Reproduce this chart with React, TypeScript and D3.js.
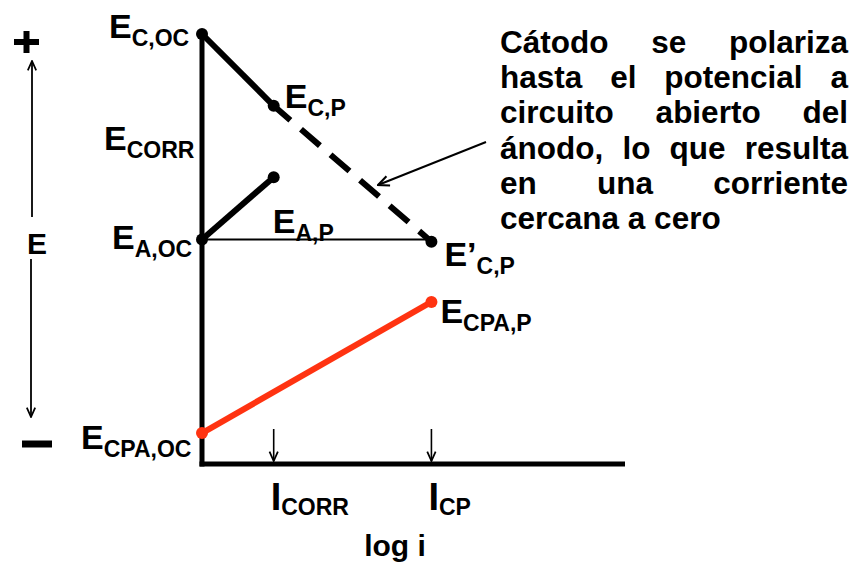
import React, { useEffect, useRef } from "react";
import * as d3 from "d3";

// ---- data (log i, E) in arbitrary units ----
const cathodeSolid = [
  { logI: 0, E: 10 },
  { logI: 1.0, E: 8.33 },
];
const cathodeDashed = [
  { logI: 1.0, E: 8.33 },
  { logI: 3.2, E: 5.17 },
];
const anodeLine = [
  { logI: 0, E: 5.22 },
  { logI: 1.0, E: 6.67 },
];
const corrLine = [
  { logI: 0, E: 5.22 },
  { logI: 3.2, E: 5.22 },
];
const cpaLine = [
  { logI: 0, E: 0.72 },
  { logI: 3.2, E: 3.77 },
];
const blackDots = [
  { logI: 0, E: 10 },
  { logI: 1.0, E: 8.33 },
  { logI: 1.0, E: 6.67 },
  { logI: 0, E: 5.22 },
  { logI: 3.2, E: 5.17 },
];
const redDots = [
  { logI: 0, E: 0.72 },
  { logI: 3.2, E: 3.77 },
];
const xTickLogI = [1.0, 3.2];
const xTickMain = ["I", "I"];
const xTickSub = ["CORR", "CP"];

// point labels: main letter + subscript, anchored near point values
const labelMain = ["E", "E", "E", "E", "E", "E’", "E", "E"];
const labelSub = ["C,OC", "C,P", "CORR", "A,OC", "A,P", "C,P", "CPA,P", "CPA,OC"];
const labelLogI = [0, 1.0, 0, 0, 1.0, 3.2, 3.2, 0];
const labelE = [10, 8.33, 7.0, 5.22, 5.22, 5.17, 3.77, 0.72];

const calloutLines = [
  ["Cátodo", "se", "polariza"],
  ["hasta", "el", "potencial", "a"],
  ["circuito", "abierto", "del"],
  ["ánodo,", "lo", "que", "resulta"],
  ["en", "una", "corriente"],
  ["cercana a cero"],
];

const W = 856;
const H = 567;
const FONT = "'Liberation Sans', Arial, sans-serif";

export default function App() {
  const ref = useRef<SVGSVGElement | null>(null);

  useEffect(() => {
    const svg = d3.select(ref.current);
    svg.selectAll("*").remove();

    const x = d3.scaleLinear().domain([0, 5.9]).range([202, 625]);
    const y = d3.scaleLinear().domain([0, 10]).range([464, 34]);
    const line = d3
      .line<{ logI: number; E: number }>()
      .x((d) => x(d.logI))
      .y((d) => y(d.E));

    const defs = svg.append("defs");
    const mk = (id: string, size: number) =>
      defs
        .append("marker")
        .attr("id", id)
        .attr("viewBox", "0 0 10 10")
        .attr("refX", 9.5)
        .attr("refY", 5)
        .attr("markerUnits", "userSpaceOnUse")
        .attr("markerWidth", size)
        .attr("markerHeight", size)
        .attr("orient", "auto")
        .append("path")
        .attr("d", "M1,1.2 L9.5,5 L1,8.8")
        .attr("fill", "none")
        .attr("stroke", "#000")
        .attr("stroke-width", 1.6)
        .attr("stroke-linejoin", "miter");
    mk("arrowS", 11);
    mk("arrowM", 13);

    // axes
    svg
      .append("line")
      .attr("x1", x(0))
      .attr("x2", x(0))
      .attr("y1", y(10))
      .attr("y2", y(0) + 2.5)
      .attr("stroke", "#000")
      .attr("stroke-width", 5);
    svg
      .append("line")
      .attr("x1", x(0) - 2.5)
      .attr("x2", x(5.9))
      .attr("y1", y(0))
      .attr("y2", y(0))
      .attr("stroke", "#000")
      .attr("stroke-width", 5);

    // thin horizontal line
    svg
      .append("path")
      .attr("d", line(corrLine))
      .attr("stroke", "#000")
      .attr("stroke-width", 2)
      .attr("fill", "none");

    // cathode solid & dashed
    svg
      .append("path")
      .attr("d", line(cathodeSolid))
      .attr("stroke", "#000")
      .attr("stroke-width", 6)
      .attr("fill", "none");
    svg
      .append("path")
      .attr("d", line(cathodeDashed))
      .attr("stroke", "#000")
      .attr("stroke-width", 6)
      .attr("stroke-dasharray", "25 14")
      .attr("stroke-dashoffset", 3)
      .attr("fill", "none");

    // anode
    svg
      .append("path")
      .attr("d", line(anodeLine))
      .attr("stroke", "#000")
      .attr("stroke-width", 6)
      .attr("fill", "none");

    // red line
    svg
      .append("path")
      .attr("d", line(cpaLine))
      .attr("stroke", "#ff3311")
      .attr("stroke-width", 6)
      .attr("fill", "none");

    svg
      .selectAll("circle.b")
      .data(blackDots)
      .join("circle")
      .attr("class", "b")
      .attr("cx", (d) => x(d.logI))
      .attr("cy", (d) => y(d.E))
      .attr("r", 6)
      .attr("fill", "#000");
    svg
      .selectAll("circle.r")
      .data(redDots)
      .join("circle")
      .attr("class", "r")
      .attr("cx", (d) => x(d.logI))
      .attr("cy", (d) => y(d.E))
      .attr("r", 6)
      .attr("fill", "#ff3311");

    // tick arrows + labels
    xTickLogI.forEach((v, i) => {
      svg
        .append("line")
        .attr("x1", x(v))
        .attr("x2", x(v))
        .attr("y1", 429)
        .attr("y2", 461)
        .attr("stroke", "#000")
        .attr("stroke-width", 1.6)
        .attr("marker-end", "url(#arrowS)");
      const t = svg
        .append("text")
        .attr("x", x(v) - 3)
        .attr("y", 510)
        .attr("font-family", FONT)
        .attr("font-weight", "bold")
        .attr("font-size", 38);
      t.append("tspan").text(xTickMain[i]);
      t.append("tspan").attr("font-size", 23).attr("dy", 5).text(xTickSub[i]);
    });

    // point labels
    const offs: [number, number][] = [
      [-93, 4],
      [11, 2],
      [-98, 150 - y(7.0)],
      [-90, 9],
      [-1, -7],
      [13, 24],
      [9, 21],
      [-121, 16],
    ];
    labelMain.forEach((m, i) => {
      const t = svg
        .append("text")
        .attr("x", x(labelLogI[i]) + offs[i][0])
        .attr("y", y(labelE[i]) + offs[i][1])
        .attr("font-family", FONT)
        .attr("font-weight", "bold")
        .attr("font-size", 34);
      t.append("tspan").text(m);
      t.append("tspan").attr("font-size", 23).attr("dy", 8).text(labelSub[i]);
    });

    // x-axis title
    svg
      .append("text")
      .attr("x", 395)
      .attr("y", 556)
      .attr("text-anchor", "middle")
      .attr("font-family", FONT)
      .attr("font-weight", "bold")
      .attr("font-size", 30)
      .text("log i");

    // left E axis: + / arrows / E / −
    svg
      .append("line")
      .attr("x1", 14).attr("x2", 39).attr("y1", 42).attr("y2", 42)
      .attr("stroke", "#000").attr("stroke-width", 6);
    svg
      .append("line")
      .attr("x1", 26.5).attr("x2", 26.5).attr("y1", 31).attr("y2", 53)
      .attr("stroke", "#000").attr("stroke-width", 6);
    svg
      .append("line")
      .attr("x1", 32).attr("x2", 32).attr("y1", 217).attr("y2", 61)
      .attr("stroke", "#000").attr("stroke-width", 1.8)
      .attr("marker-end", "url(#arrowS)");
    svg
      .append("line")
      .attr("x1", 31).attr("x2", 31).attr("y1", 259).attr("y2", 417)
      .attr("stroke", "#000").attr("stroke-width", 1.8)
      .attr("marker-end", "url(#arrowS)");
    svg
      .append("text")
      .attr("x", 37)
      .attr("y", 254)
      .attr("text-anchor", "middle")
      .attr("font-family", FONT)
      .attr("font-weight", "bold")
      .attr("font-size", 30)
      .text("E");
    svg
      .append("line")
      .attr("x1", 22).attr("x2", 52).attr("y1", 444).attr("y2", 444)
      .attr("stroke", "#000").attr("stroke-width", 7);

    // callout arrow
    svg
      .append("line")
      .attr("x1", 486)
      .attr("y1", 142)
      .attr("x2", 378)
      .attr("y2", 185)
      .attr("stroke", "#000")
      .attr("stroke-width", 2)
      .attr("marker-end", "url(#arrowM)");

    // justified callout text
    const left = 500;
    const right = 848;
    const base0 = 53;
    const lh = 35.2;
    calloutLines.forEach((words, li) => {
      const by = base0 + li * lh;
      const g = svg.append("g");
      const nodes = words.map((w) =>
        g
          .append("text")
          .attr("y", by)
          .attr("font-family", FONT)
          .attr("font-weight", "bold")
          .attr("font-size", 31.5)
          .attr("fill", "#000")
          .text(w)
      );
      const widths = nodes.map((n) => (n.node() as SVGTextElement).getComputedTextLength());
      const total = d3.sum(widths);
      const last = li === calloutLines.length - 1;
      const gap = last || words.length < 2 ? 0 : (right - left - total) / (words.length - 1);
      let cx = left;
      nodes.forEach((n, i) => {
        n.attr("x", cx);
        cx += widths[i] + gap;
      });
    });
  }, []);

  return (
    <svg
      ref={ref}
      width={W}
      height={H}
      style={{ position: "absolute", left: 0, top: 0, background: "#fff" }}
    />
  );
}
